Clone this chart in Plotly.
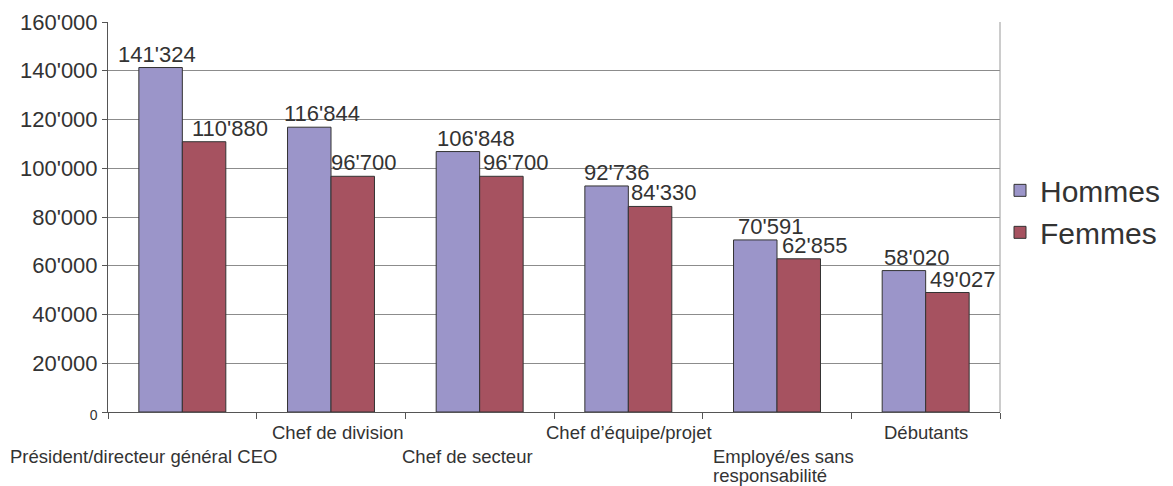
import plotly.graph_objects as go

categories = ["Président/directeur général CEO", "Chef de division", "Chef de secteur",
              "Chef d’équipe/projet", "Employé/es sans responsabilité", "Débutants"]
label_lines = [["Président/directeur général CEO"], ["Chef de division"], ["Chef de secteur"],
               ["Chef d’équipe/projet"], ["Employé/es sans", "responsabilité"], ["Débutants"]]
hommes = [141324, 116844, 106848, 92736, 70591, 58020]
femmes = [110880, 96700, 96700, 84330, 62855, 49027]
y_tickvals = [0, 20000, 40000, 60000, 80000, 100000, 120000, 140000, 160000]

# layout helpers (pixels)
dx_h = [-4, 13, 18, 10, 15, 13]          # value-label nudges, Hommes
dx_f = [26, 11, 14, 13, 16, 15]          # value-label nudges, Femmes
cat_row = [1, 0, 1, 0, 1, 0]             # staggered category label rows
cat_dx = [-39, 7, -12, 1, -66, 0]        # category label nudges
cat_anchor = ["center", "center", "center", "center", "left", "center"]

FONT = "Liberation Sans, Arial, sans-serif"
TXT = "#333333"

def fmt(v):
    return f"{v:,}".replace(",", "'")

y_ticktext = ['<span style="font-size:14px">0</span>'] + [fmt(v) for v in y_tickvals[1:]]

fig = go.Figure()
fig.add_trace(go.Bar(name="Hommes", x=categories, y=hommes,
                     marker=dict(color="#9B95C9", line=dict(color="#333333", width=1))))
fig.add_trace(go.Bar(name="Femmes", x=categories, y=femmes,
                     marker=dict(color="#A65260", line=dict(color="#333333", width=1))))

half = 21.8
for i, c in enumerate(categories):
    fig.add_annotation(x=c, y=hommes[i], text=fmt(hommes[i]), showarrow=False,
                       xshift=-half + dx_h[i], yanchor="bottom", yshift=-1,
                       font=dict(size=22, color=TXT, family=FONT))
    fig.add_annotation(x=c, y=femmes[i], text=fmt(femmes[i]), showarrow=False,
                       xshift=half + dx_f[i], yanchor="bottom", yshift=-1,
                       font=dict(size=22, color=TXT, family=FONT))
    for j, line in enumerate(label_lines[i]):
        fig.add_annotation(x=c, y=0, text=line, showarrow=False,
                           xanchor=cat_anchor[i], xshift=cat_dx[i],
                           yanchor="middle", yshift=-(20 + 24 * cat_row[i] + 19 * j),
                           font=dict(size=18.5, color=TXT, family=FONT))

fig.add_shape(type="line", xref="paper", yref="paper", x0=1, x1=1, y0=0, y1=1,
              line=dict(color="#999999", width=1))

fig.update_layout(
    width=1173, height=486,
    margin=dict(l=108, r=173, t=22, b=74, autoexpand=False),
    paper_bgcolor="white", plot_bgcolor="white",
    barmode="group", bargap=0.415, bargroupgap=0,
    font=dict(family=FONT, color=TXT),
    legend=dict(x=1.0, y=0.635, xanchor="left", yanchor="top",
                font=dict(size=30, color=TXT, family=FONT),
                bgcolor="rgba(0,0,0,0)", itemwidth=30, tracegroupgap=0),
    showlegend=True,
)
fig.update_xaxes(
    type="category", showticklabels=False, range=[-0.5, len(categories) - 0.5],
    tickson="boundaries", ticks="outside", ticklen=6, tickcolor="#555555",
    showline=True, linecolor="#555555", linewidth=1, showgrid=False, automargin=False,
)
fig.update_yaxes(
    range=[0, 160000], tickmode="array", tickvals=y_tickvals, ticktext=y_ticktext,
    ticks="outside", ticklen=5, tickcolor="#555555", automargin=False,
    showline=True, linecolor="#555555", linewidth=1,
    showgrid=True, gridcolor="#8C8C8C", gridwidth=1, zeroline=False,
    tickfont=dict(size=22, color=TXT, family=FONT),
)

fig.write_html("out.html", config={"displayModeBar": False},
               post_script="document.body.style.margin='0';document.body.style.overflow='hidden';")
